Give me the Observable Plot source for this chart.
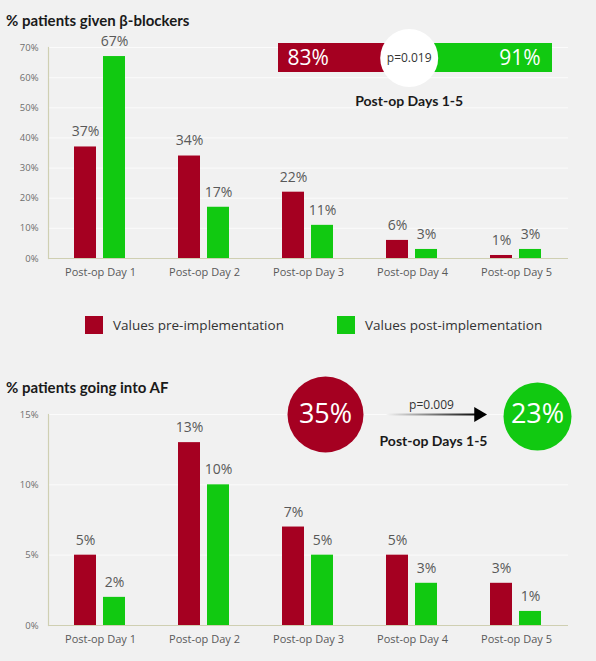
<!DOCTYPE html>
<html><head><meta charset="utf-8">
<script src="https://cdn.jsdelivr.net/npm/d3@7"></script>
<script src="https://cdn.jsdelivr.net/npm/@observablehq/plot@0.6"></script>
<style>
body{margin:0;background:#f1f1f1;}
#wrap{position:relative;width:596px;height:661px;overflow:hidden;background:#f1f1f1;font-family:"Open Sans",sans-serif;}
.abs{position:absolute;}
.title{font-family:Lato,sans-serif;font-weight:bold;font-size:15px;color:#1a1a1a;white-space:nowrap;}
.leg{font-family:"Open Sans",sans-serif;font-size:13.5px;color:#333;white-space:nowrap;line-height:18px;}
.sw{width:18px;height:18px;}
</style></head><body><div id="wrap"></div>
<script>
// ---- data ----
const days = ["Post-op Day 1","Post-op Day 2","Post-op Day 3","Post-op Day 4","Post-op Day 5"];
const groups = ["Values pre-implementation","Values post-implementation"];
const colors = ["#a50021","#11c911"];
const betaPre = [37,34,22,6,1];
const betaPost = [67,17,11,3,3];
const betaTicks = [0,10,20,30,40,50,60,70];
const afPre = [5,13,7,5,3];
const afPost = [2,10,5,3,1];
const afTicks = [0,5,10,15];
const betaTotals = [83,91];
const betaP = "p=0.019";
const afTotals = [35,23];
const afP = "p=0.009";
const periodLabel = "Post-op Days 1-5";
const titles = ["% patients given β-blockers","% patients going into AF"];

const wrap = document.getElementById("wrap");
function place(el, left, top){ el.classList.add("abs"); el.style.left=left+"px"; el.style.top=top+"px"; wrap.appendChild(el); return el; }

function barChart(pre, post, ticks){
  const rows = days.flatMap((d,i)=>[{day:d,group:groups[0],v:pre[i]},{day:d,group:groups[1],v:post[i]}]);
  const yMax = ticks[ticks.length-1];
  return Plot.plot({
    width:596, height:262, marginLeft:48, marginRight:28, marginTop:17, marginBottom:34,
    style:{background:"transparent", fontFamily:"Open Sans, sans-serif", overflow:"visible"},
    fx:{domain:days, padding:0},
    x:{domain:groups, paddingInner:0.24, paddingOuter:0.88, axis:null},
    y:{domain:[0,yMax]},
    color:{domain:groups, range:colors},
    marks:[
      Plot.ruleY(ticks.slice(1), {stroke:"#fbfbfb", strokeWidth:1}),
      Plot.barY(rows, {fx:"day", x:"group", y:"v", fill:"group"}),
      Plot.ruleY([0], {stroke:"#cfcfb2", strokeWidth:1.2}),
      Plot.frame({anchor:"left", facetAnchor:"left", stroke:"#cfcfb2", strokeWidth:1.2}),
      Plot.text(rows, {fx:"day", x:"group", y:"v", text:d=>d.v+"%", dy:-15, fill:"#595959", fontSize:14}),
      Plot.axisY({ticks, tickFormat:d=>d+"%", tickSize:0, tickPadding:10, fontSize:9.5, fill:"#6e6e6e", label:null}),
      Plot.axisFx({anchor:"bottom", tickSize:0, tickPadding:10, fontSize:11, fill:"#595959", label:null})
    ]
  });
}

// titles
const t1 = document.createElement("div"); t1.className="title"; t1.textContent=titles[0]; place(t1,6,11);
const t2 = document.createElement("div"); t2.className="title"; t2.textContent=titles[1]; place(t2,6,378);

// charts
place(barChart(betaPre, betaPost, betaTicks), 0, 30);
place(barChart(afPre, afPost, afTicks), 0, 397);

// legend
const leg = document.createElement("div");
leg.style.width="596px"; leg.style.height="18px";
groups.forEach((g,i)=>{
  const sw=document.createElement("div"); sw.className="sw abs"; sw.style.background=colors[i];
  sw.style.left=(i?337:85)+"px"; sw.style.top="0px"; leg.appendChild(sw);
  const tx=document.createElement("div"); tx.className="leg abs"; tx.textContent=g;
  tx.style.left=(i?365:113)+"px"; tx.style.top="0px"; leg.appendChild(tx);
});
place(leg,0,316);

// top annotation: stacked pre/post bar with p-value circle
const betaRows = groups.map((g,i)=>({group:g, v:betaTotals[i]}));
const betaSum = d3.sum(betaTotals);
const ann1 = Plot.plot({
  width:596, height:115, marginLeft:278, marginRight:44, marginTop:43, marginBottom:43,
  style:{background:"transparent", fontFamily:"Open Sans, sans-serif", overflow:"visible"},
  x:{domain:[0,betaSum], axis:null},
  color:{domain:groups, range:colors},
  marks:[
    Plot.barX(betaRows, Plot.stackX({x:"v", fill:"group"})),
    Plot.dot([betaTotals[0]], {x:d=>d, r:29, fill:"white", stroke:null}),
    Plot.text([betaP], {x:()=>betaTotals[0], text:d=>d, fontSize:12, fill:"#333"}),
    Plot.text([betaTotals[0]], {x:()=>0, text:d=>d+"%", textAnchor:"start", dx:9, fontSize:21, fill:"white"}),
    Plot.text([betaTotals[1]], {x:()=>betaSum, text:d=>d+"%", textAnchor:"end", dx:-12, fontSize:21, fill:"white"}),
    Plot.text([periodLabel], {x:()=>betaTotals[0], text:d=>d, dy:44, fontSize:14, fontWeight:"bold", fontFamily:"Lato, sans-serif", fill:"#1a1a1a"})
  ]
});
place(ann1,0,0);

// bottom annotation: circles and arrow
const afRows = groups.map((g,i)=>({group:g, v:afTotals[i]}));
const ann2 = Plot.plot({
  width:596, height:140, marginLeft:325, marginRight:59, marginTop:70, marginBottom:70,
  style:{background:"transparent", fontFamily:"Open Sans, sans-serif", overflow:"visible"},
  x:{type:"point", domain:groups, padding:0, axis:null},
  y:{type:"linear", domain:[-1,1], axis:null},
  color:{domain:groups, range:colors},
  marks:[
    () => {
      const s = d3.create("svg:defs");
      const gr = s.append("linearGradient").attr("id","arrowGrad").attr("gradientUnits","userSpaceOnUse")
        .attr("x1",387).attr("x2",480).attr("y1",0).attr("y2",0);
      gr.append("stop").attr("offset","0%").attr("stop-color","#f1f1f1");
      gr.append("stop").attr("offset","100%").attr("stop-color","#000");
      return s.node();
    },
    Plot.dot(afRows.slice(0,1), {x:"group", r:38, fill:"group", stroke:null}),
    Plot.dot(afRows.slice(1), {x:"group", r:34, fill:"group", stroke:null, dy:2}),
    Plot.text(afRows, {x:"group", text:d=>d.v+"%", fontSize:27, fill:"white"}),
    Plot.arrow([afTotals], {x1:()=>groups[0], x2:()=>groups[1], y1:()=>0, y2:()=>0, insetStart:62, insetEnd:60, stroke:"url(#arrowGrad)", strokeWidth:2, headLength:0}),
    Plot.dot([afTotals[1]], {x:()=>groups[1], y:()=>0, symbol:"triangle", rotate:90, r:5.5, fill:"#000", stroke:null, dx:-59}),
    Plot.text([afP], {frameAnchor:"middle", text:d=>d, dy:-9, fontSize:12, fill:"#333"}),
    Plot.text([periodLabel], {frameAnchor:"middle", text:d=>d, dy:27, dx:2, fontSize:14, fontWeight:"bold", fontFamily:"Lato, sans-serif", fill:"#1a1a1a"})
  ]
});
place(ann2,0,344);
</script>
</body></html>
